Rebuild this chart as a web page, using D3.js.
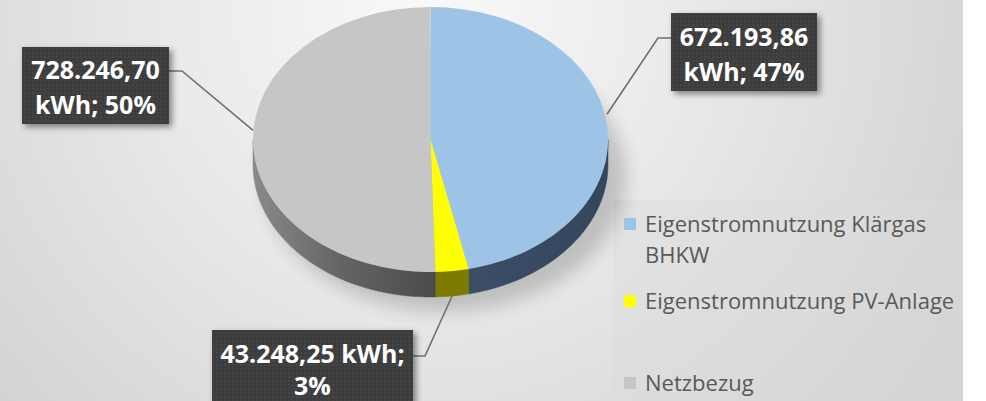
<!DOCTYPE html>
<html><head><meta charset="utf-8">
<script src="https://cdn.jsdelivr.net/npm/d3@7"></script>
<style>html,body{margin:0;padding:0;background:#fff;overflow:hidden}</style>
</head><body>
<svg id="chart" width="986" height="401"></svg>
<script>
// ---- data ----
const categories = ["Eigenstromnutzung Klärgas BHKW", "Eigenstromnutzung PV-Anlage", "Netzbezug"];
const values = [672193.86, 43248.25, 728246.70];
const unit = "kWh";
const legendLines = [["Eigenstromnutzung Klärgas", "BHKW"], ["Eigenstromnutzung PV-Anlage"], ["Netzbezug"]];

// ---- styles / layout ----
const topColors = ["#9dc3e6", "#ffff00", "#c6c6c6"];
const W = 963, H = 401;
const cx = 430.5, cy = 139.5, rx = 177.5, ry = 132.5, depth = 25;

const svg = d3.select("#chart");
const defs = svg.append("defs");

const bg = defs.append("radialGradient").attr("id", "bg").attr("gradientUnits", "userSpaceOnUse")
  .attr("cx", 430).attr("cy", 10).attr("r", 640);
bg.append("stop").attr("offset", 0).attr("stop-color", "#f9f9f9");
bg.append("stop").attr("offset", 0.45).attr("stop-color", "#e8e8e8");
bg.append("stop").attr("offset", 1).attr("stop-color", "#cfcfcf");

const gSide = defs.append("linearGradient").attr("id", "graySide").attr("gradientUnits", "userSpaceOnUse")
  .attr("x1", cx - rx).attr("x2", cx).attr("y1", 0).attr("y2", 0);
gSide.append("stop").attr("offset", 0).attr("stop-color", "#8a8a8a");
gSide.append("stop").attr("offset", 0.5).attr("stop-color", "#646464");
gSide.append("stop").attr("offset", 1).attr("stop-color", "#4c4c4c");

const bSide = defs.append("linearGradient").attr("id", "blueSide").attr("gradientUnits", "userSpaceOnUse")
  .attr("x1", cx).attr("x2", cx + rx).attr("y1", 0).attr("y2", 0);
bSide.append("stop").attr("offset", 0).attr("stop-color", "#3d5068");
bSide.append("stop").attr("offset", 1).attr("stop-color", "#34465c");

const sideFills = ["url(#blueSide)", "#7c7a00", "url(#graySide)"];

const blur = defs.append("filter").attr("id", "blur").attr("x", "-20%").attr("y", "-20%").attr("width", "140%").attr("height", "140%");
blur.append("feGaussianBlur").attr("stdDeviation", 9);

const shadow = defs.append("filter").attr("id", "boxShadow").attr("x", "-20%").attr("y", "-20%").attr("width", "140%").attr("height", "150%");
shadow.append("feDropShadow").attr("dx", 3).attr("dy", 3).attr("stdDeviation", 3).attr("flood-color", "#000").attr("flood-opacity", 0.45);

// dotted texture for label boxes
const pat = defs.append("pattern").attr("id", "dots").attr("patternUnits", "userSpaceOnUse").attr("width", 4).attr("height", 4);
pat.append("rect").attr("width", 4).attr("height", 4).attr("fill", "#3e3e3e");
pat.append("circle").attr("cx", 1).attr("cy", 1).attr("r", 0.8).attr("fill", "#4a4a4a");

// background
svg.append("rect").attr("x", 0).attr("y", 0).attr("width", W).attr("height", H).attr("fill", "url(#bg)");
// legend area (slightly flatter)
svg.append("rect").attr("x", 613).attr("y", 200).attr("width", W - 613).attr("height", H - 200)
  .attr("fill", "#dcdcdc").attr("opacity", 0.45);

// ---- pie ----
const total = d3.sum(values);
const pie = d3.pie().sort(null).value(d => d).startAngle(0).endAngle(2 * Math.PI);
const arcs = pie(values);

const pt = (t, dy = 0) => [cx + rx * Math.sin(t), cy - ry * Math.cos(t) + dy];

// soft shadow beneath
svg.append("ellipse").attr("cx", cx + 14).attr("cy", cy + depth + 12).attr("rx", rx + 4).attr("ry", ry + 2)
  .attr("fill", "#000").attr("opacity", 0.18).attr("filter", "url(#blur)");

// side walls (front half: angles PI/2 .. 3PI/2)
const line = d3.line();
arcs.forEach((a, i) => {
  const a0 = Math.max(a.startAngle, Math.PI / 2), a1 = Math.min(a.endAngle, 3 * Math.PI / 2);
  if (a1 <= a0) return;
  const n = 60, topPts = [], botPts = [];
  for (let k = 0; k <= n; k++) {
    const t = a0 + (a1 - a0) * k / n;
    topPts.push(pt(t));
    botPts.push(pt(t, depth));
  }
  svg.append("path").attr("d", line(topPts.concat(botPts.reverse())) + "Z")
    .attr("fill", sideFills[i]).attr("stroke", sideFills[i]).attr("stroke-width", 0.5);
});

// top faces
const arc = d3.arc().innerRadius(0).outerRadius(rx);
svg.append("g").attr("transform", `translate(${cx},${cy}) scale(1,${ry / rx})`)
  .selectAll("path").data(arcs).join("path")
  .attr("d", arc).attr("fill", (d, i) => topColors[i]);

// ---- labels ----
const loc = d3.formatLocale({decimal: ",", thousands: ".", grouping: [3], currency: ["", "€"]});
const fmt = loc.format(",.2f");
const pctOf = v => Math.round(v / total * 100) + "%";

// label layout: box [x, y, w, h], text lines split, elbow point, anchor type
const labelLayout = [
  {box: [671, 13, 146, 78], split: 1, elbow: [658, 38], side: "top", base: 46, gap: 35},
  {box: [212, 330, 201, 80], split: 2, elbow: [425, 356], side: "bottom", base: 33, gap: 32},
  {box: [22, 47, 147, 77], split: 1, elbow: [182, 71], side: "top", base: 79, gap: 35}
];

arcs.forEach((a, i) => {
  const L = labelLayout[i];
  const mid = (a.startAngle + a.endAngle) / 2;
  const anchor = L.side === "bottom" ? pt(mid, depth) : pt(mid, -11);
  const [bx, by, bw, bh] = L.box;
  const edgeX2 = L.elbow[0] < bx ? bx : bx + bw;
  svg.append("path").attr("d", line([anchor, L.elbow, [edgeX2, L.elbow[1]]]))
    .attr("fill", "none").attr("stroke", "#6f6f6f").attr("stroke-width", 1.6);

  svg.append("rect").attr("x", bx).attr("y", by).attr("width", bw).attr("height", bh)
    .attr("fill", "url(#dots)").attr("filter", "url(#boxShadow)");

  const words = [fmt(a.value), unit + ";", pctOf(a.value)];
  const lines = L.split === 1 ? [words[0], words[1] + " " + words[2]] : [words[0] + " " + words[1], words[2]];
  const t = svg.append("text").attr("x", bx + bw / 2).attr("text-anchor", "middle")
    .attr("font-family", "'Open Sans', sans-serif").attr("font-weight", 700).attr("font-size", 25)
    .attr("fill", "#ffffff");
  const y0 = L.side === "bottom" ? by + L.base : L.elbow[1] + 8;
  lines.forEach((s, j) => {
    t.append("tspan").attr("x", bx + bw / 2).attr("y", y0 + j * L.gap).text(s);
  });
});

// ---- legend ----
const legendY = [[232, 263], [309], [391]];
const lg = svg.append("g");
legendLines.forEach((ls, i) => {
  lg.append("rect").attr("x", 624).attr("y", legendY[i][0] - 14).attr("width", 12).attr("height", 12)
    .attr("fill", topColors[i]);
  ls.forEach((s, j) => {
    lg.append("text").attr("x", 645).attr("y", legendY[i][j])
      .attr("font-family", "'Open Sans', sans-serif").attr("font-size", 22)
      .attr("fill", "#595959").text(s);
  });
});
</script>
</body></html>
